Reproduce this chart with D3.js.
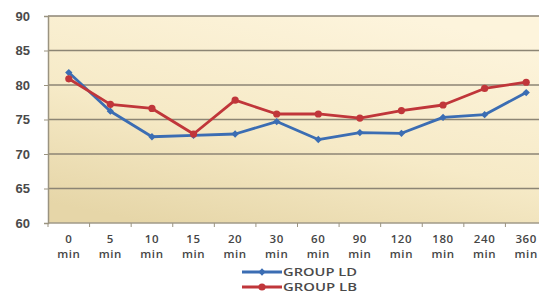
<!DOCTYPE html>
<html>
<head>
<meta charset="utf-8">
<script src="https://cdn.jsdelivr.net/npm/d3@7"></script>
<style>
  body { margin: 0; background: #fff; }
  svg { display: block; font-family: "Open Sans", "DejaVu Sans", sans-serif; }
</style>
</head>
<body>
<svg id="chart" width="539" height="294"></svg>
<script>
'use strict';

// chart data
const categories = ['0', '5', '10', '15', '20', '30', '60', '90', '120', '180', '240', '360'];
const groupLD = [81.8, 76.2, 72.5, 72.7, 72.9, 74.7, 72.1, 73.1, 73.0, 75.3, 75.7, 78.9];
const groupLB = [80.9, 77.2, 76.6, 72.9, 77.8, 75.8, 75.8, 75.2, 76.3, 77.1, 79.5, 80.4];
const yTicks = [60, 65, 70, 75, 80, 85, 90];

const series = [
  {name: 'GROUP LD', values: groupLD, color: '#3b6db3', marker: 'diamond'},
  {name: 'GROUP LB', values: groupLB, color: '#c0363a', marker: 'circle'}
];

const svg = d3.select('#chart');
const margin = {left: 48, top: 16, plotRight: 547, bottom: 223};

const x = d3.scaleBand()
  .domain(categories)
  .range([margin.left, margin.plotRight]);

const y = d3.scaleLinear()
  .domain([60, 90])
  .range([margin.bottom, margin.top]);

// plot background gradient
const defs = svg.append('defs');
const grad = defs.append('linearGradient')
  .attr('id', 'bg')
  .attr('x1', '0.7').attr('y1', '0')
  .attr('x2', '0.2').attr('y2', '1');
grad.append('stop').attr('offset', '0%').attr('stop-color', '#fdf4dc');
grad.append('stop').attr('offset', '55%').attr('stop-color', '#f6eac7');
grad.append('stop').attr('offset', '100%').attr('stop-color', '#e6d6a8');

svg.append('rect')
  .attr('x', margin.left)
  .attr('y', margin.top)
  .attr('width', margin.plotRight - margin.left)
  .attr('height', margin.bottom - margin.top)
  .attr('fill', 'url(#bg)');

// gridlines
svg.append('g')
  .selectAll('line')
  .data(yTicks)
  .join('line')
  .attr('x1', margin.left)
  .attr('x2', margin.plotRight)
  .attr('y1', d => y(d))
  .attr('y2', d => y(d))
  .attr('stroke', d => d === 60 ? '#a19a88' : '#8c8574')
  .attr('stroke-width', 1.5);

// y axis
const yAxis = svg.append('g')
  .attr('transform', `translate(${margin.left},0)`)
  .call(d3.axisLeft(y).tickValues(yTicks).tickSize(4).tickPadding(14));
yAxis.select('.domain').attr('stroke', '#9a9380').attr('stroke-width', 1.5);
yAxis.selectAll('.tick line').attr('stroke', '#9a9380');
yAxis.selectAll('.tick text')
  .attr('fill', '#4a4a4a')
  .attr('font-size', 13)
  .attr('font-weight', 600);

// x axis
const xAxis = svg.append('g')
  .attr('transform', `translate(0,${margin.bottom})`)
  .call(d3.axisBottom(x).tickSize(0).tickFormat(''));
xAxis.select('.domain').remove();

svg.append('g')
  .selectAll('line')
  .data(categories)
  .join('line')
  .attr('x1', d => x(d))
  .attr('x2', d => x(d))
  .attr('y1', margin.bottom)
  .attr('y2', margin.bottom + 4)
  .attr('stroke', '#9a9380');

const xLabels = svg.append('g')
  .selectAll('text')
  .data(categories)
  .join('text')
  .attr('text-anchor', 'middle')
  .attr('fill', '#454545')
  .attr('font-size', 11.5)
  .attr('letter-spacing', 0.6)
  .attr('font-weight', 600);
xLabels.append('tspan')
  .attr('x', d => x(d) + x.bandwidth() / 2)
  .attr('y', 243)
  .text(d => d);
xLabels.append('tspan')
  .attr('x', d => x(d) + x.bandwidth() / 2)
  .attr('y', 258)
  .text('min');

// lines
const line = d3.line()
  .x((d, i) => x(categories[i]) + x.bandwidth() / 2)
  .y(d => y(d));

function drawMarker(sel, s) {
  if(s.marker === 'circle') {
    sel.append('circle').attr('r', 3.6).attr('fill', s.color);
  } else {
    sel.append('path')
      .attr('d', d3.symbol(d3.symbolDiamond2, 34)())
      .attr('fill', s.color);
  }
}

series.forEach(s => {
  const g = svg.append('g');
  g.append('path')
    .datum(s.values)
    .attr('d', line)
    .attr('fill', 'none')
    .attr('stroke', s.color)
    .attr('stroke-width', 2.8)
    .attr('stroke-linejoin', 'round');

  g.selectAll('.pt')
    .data(s.values)
    .join('g')
    .attr('class', 'pt')
    .attr('transform', (d, i) => `translate(${x(categories[i]) + x.bandwidth() / 2},${y(d)})`)
    .each(function() { drawMarker(d3.select(this), s); });
});

// legend
const legend = svg.append('g')
  .selectAll('g')
  .data(series)
  .join('g')
  .attr('transform', (d, i) => `translate(242,${272 + i * 15})`);

legend.append('line')
  .attr('x1', 0).attr('x2', 40)
  .attr('stroke', d => d.color)
  .attr('stroke-width', 2.8);
legend.each(function(d) {
  const m = d3.select(this).append('g').attr('transform', 'translate(20,0)');
  drawMarker(m, d);
});
legend.append('text')
  .attr('x', 41)
  .attr('dy', '0.36em')
  .attr('fill', '#4a4a4a')
  .attr('font-size', 11.5)
  .attr('font-weight', 600)
  .attr('textLength', 74)
  .attr('lengthAdjust', 'spacingAndGlyphs')
  .text(d => d.name);
</script>
</body>
</html>
